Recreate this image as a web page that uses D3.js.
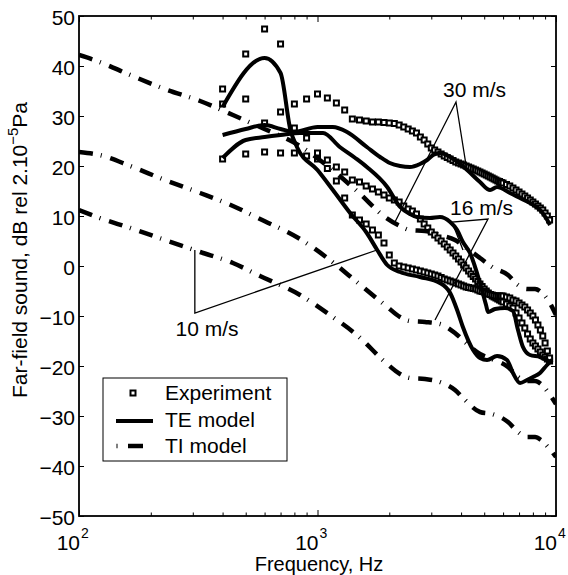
<!DOCTYPE html>
<html>
<head>
<meta charset="utf-8">
<script src="https://cdn.jsdelivr.net/npm/d3@7"></script>
<style>
body { margin: 0; background: #fff; }
svg { display: block; font-family: "Liberation Sans", Arial, Helvetica, sans-serif; }
</style>
</head>
<body>
<script>
// Experiment spectra, dB rel 2e-5 Pa
var freqExp = [400, 500, 600, 700, 800, 900, 1000, 1100, 1200, 1300, 1400, 1500, 1600, 1700, 1800, 1900,
    2000, 2100, 2200, 2300, 2400, 2500, 2600, 2700, 2800, 2900, 3000,
    3100, 3200, 3300, 3400, 3500, 3600, 3700, 3800, 3900, 4000,
    4100, 4200, 4300, 4400, 4500, 4600, 4700, 4800, 4900, 5000,
    5100, 5200, 5300, 5400, 5500, 5600, 5700, 5800, 5900, 6000,
    6200, 6400, 6600, 6800, 7000, 7200, 7400, 7600, 7800, 8000, 8200, 8400, 8600, 8800, 9000, 9200, 9400];

var exp30 = [32.4, 33.4, 28.6, 30.8, 32.4, 33.4, 34.4, 33.6, 32.6, 31.2, 29.4, 29.2, 29.0, 28.8, 28.8, 28.7,
    28.6, 28.5, 28.2, 27.8, 27.4, 27.0, 26.6, 25.8, 25.2, 24.4, 23.6,
    23.2, 22.8, 22.4, 22.0, 21.7, 21.4, 21.1, 20.8, 20.6, 20.4,
    20.2, 20.0, 19.8, 19.6, 19.4, 19.2, 19.0, 18.8, 18.6, 18.4,
    18.2, 18.0, 17.8, 17.6, 17.4, 17.2, 17.0, 16.9, 16.7, 16.6,
    16.3, 16.0, 15.6, 15.2, 14.8, 14.4, 14.0, 13.6, 13.2, 12.8, 12.4, 12.0, 11.6, 11.2, 10.6, 10.0, 9.2];

var exp16 = [21.4, 22.4, 22.8, 22.6, 22.6, 22.0, 22.6, 21.2, 19.8, 18.8, 17.2, 16.8, 16.0, 15.4, 14.8, 14.2,
    13.6, 13.2, 12.8, 12.0, 11.4, 11.0, 10.4, 9.4, 8.4, 7.6, 6.8,
    6.2, 5.6, 5.0, 4.4, 3.8, 3.2, 2.6, 2.0, 1.4, 0.8,
    0.2, -0.4, -1.0, -1.6, -2.1, -2.6, -3.1, -3.6, -4.1, -4.6,
    -5.0, -5.4, -5.7, -6.0, -6.2, -6.4, -6.6, -6.8, -7.0, -7.2,
    -7.6, -8.0, -8.4, -9.4, -10.4, -11.4, -12.4, -13.6, -14.6, -15.4, -16.0, -16.6, -17.2, -17.8, -18.2, -18.6, -19.0];

var exp10 = [35.4, 42.4, 47.4, 44.4, 27.6, 25.6, 21.4, 19.5, 17.0, 13.6, 10.2, 9.2, 8.4, 7.2, 6.2, 4.6,
    2.2, 0.6, 0.0, -0.2, -0.4, -0.6, -0.8, -1.0, -1.2, -1.4, -1.6,
    -1.8, -2.0, -2.3, -2.6, -2.8, -3.0, -3.2, -3.4, -3.6, -3.8,
    -4.0, -4.2, -4.3, -4.4, -4.5, -4.6, -4.8, -5.0, -5.1, -5.2,
    -5.4, -5.6, -5.7, -5.8, -5.9, -6.0, -6.0, -6.0, -6.0, -6.0,
    -6.2, -6.4, -6.8, -7.0, -7.4, -7.8, -8.2, -8.8, -9.4, -10.0, -10.8, -11.8, -12.8, -14.0, -15.4, -17.0, -18.4];

// TE model
var teFreq30 = [400, 500, 600, 700, 800, 1000, 1160, 1330, 1610, 1830, 2010, 2220, 2440, 2690, 2880, 3050,
    3260, 3770, 4240, 4800, 5290, 5660, 6410, 7060, 7780, 8570, 9080, 9440];
var te30 = [26.2, 27.4, 28.2, 27.4, 26.8, 27.8, 27.8, 26.8, 23.8, 21.8, 20.6, 20.0, 19.8, 20.4, 21.2, 22.2,
    22.6, 21.2, 19.2, 16.8, 15.2, 15.8, 14.6, 13.6, 12.6, 11.2, 9.6, 8.2];

var teFreq16 = [400, 500, 600, 700, 845, 1055, 1240, 1440, 1610, 1960, 2220, 2440, 2610, 2960, 3260, 3600,
    3850, 4070, 4360, 4800, 5090, 5190, 5550, 6110, 6600, 6930, 7270, 7780, 8570, 9440];
var te16 = [21.6, 25.2, 25.8, 26.2, 26.6, 26.6, 23.8, 21.6, 19.8, 15.8, 11.8, 10.4, 9.8, 9.6, 9.8, 8.8,
    7.2, 4.8, 2.6, -3.4, -7.8, -9.2, -8.6, -8.4, -9.0, -12.8, -16.2, -17.8, -18.2, -19.2];

var teFreq10 = [400, 600, 700, 770, 820, 1000, 1160, 1370, 1610, 1780, 1960, 2220, 2690, 3260, 3600, 3850,
    4070, 4490, 4800, 5140, 5660, 6230, 6600, 7070, 7560, 8010, 8570, 9170, 9620];
var te10 = [31.8, 41.6, 38.6, 27.2, 23.8, 19.2, 15.2, 10.6, 6.6, 3.2, 0.2, -1.2, -2.2, -3.4, -5.4, -8.8,
    -12.2, -16.8, -18.4, -18.8, -18.0, -18.8, -21.4, -23.4, -22.8, -22.2, -21.4, -19.8, -18.8];

// TI model
var tiFreq = [100, 122, 164, 229, 322, 442, 574, 845, 1128, 1479, 1919, 2218, 2442, 2823, 3263, 3771,
    4153, 4801, 5391, 6292, 6929, 7557, 8166, 8651, 9258, 10000];
var ti30 = [42.2, 40.8, 38.2, 35.4, 33.0, 30.2, 27.8, 24.0, 19.6, 14.8, 9.8, 8.0, 7.2, 7.0, 6.2, 5.2,
    3.8, 1.6, -0.2, -1.8, -3.8, -4.6, -4.6, -5.2, -6.8, -9.8];
var ti16 = [22.8, 22.2, 20.0, 17.2, 14.6, 12.0, 9.4, 5.4, 1.2, -3.4, -7.8, -10.2, -11.0, -11.2, -11.6, -13.4,
    -15.2, -17.6, -18.6, -20.2, -22.2, -23.0, -23.0, -23.6, -25.2, -27.6];
var ti10 = [11.2, 9.6, 7.6, 5.2, 2.8, 0.6, -2.0, -5.8, -9.8, -14.0, -19.2, -21.6, -22.4, -22.6, -23.2, -24.8,
    -26.8, -29.2, -29.6, -31.2, -33.2, -34.2, -34.2, -34.8, -36.2, -38.2];

// tick labels
var yTicks = [-50, -40, -30, -20, -10, 0, 10, 20, 30, 40, 50];
var xDecades = [100, 1000, 10000];
var xDecadeExp = ["2", "3", "4"];

// speed labels and their pointer lines, in [Hz, dB]
var speedLabels = ["10 m/s", "16 m/s", "30 m/s"];
var labelAt = [[344, -14.0], [4870, 10.2], [4553, 33.8]];
var pointers = [
    [[306, 3.2], [306, -9.4], [1776, 3.2]],
    [[3110, -10.8], [5187, 9.4], [3664, 8.8], [4074, 3.2]],
    [[2113, 8.8], [3808, 32.8], [4195, 20.2]]
];

var w = 568;
var h = 575;

var x = d3.scaleLog().domain([100, 10000]).range([79, 556]);
var y = d3.scaleLinear().domain([-50, 50]).range([516, 16]);

var svg = d3.select("body")
    .append("svg")
    .attr("width", w)
    .attr("height", h);

svg.append("rect").attr("width", w).attr("height", h).attr("fill", "#fff");

svg.append("defs").append("clipPath")
    .attr("id", "plotclip")
    .append("rect")
    .attr("x", 79).attr("y", 16)
    .attr("width", 477).attr("height", 500);

var plot = svg.append("g").attr("clip-path", "url(#plotclip)");

function zip(fs, vs) {
    return fs.map((f, i) => [f, vs[i]]);
}

// experiment squares
[exp30, exp16, exp10].forEach(function (vals) {
    plot.append("g")
        .selectAll("rect")
        .data(zip(freqExp, vals))
        .enter()
        .append("rect")
        .attr("x", d => x(d[0]) - 2.5)
        .attr("y", d => y(d[1]) - 2.5)
        .attr("width", 5)
        .attr("height", 5)
        .attr("fill", "#fff")
        .attr("stroke", "#000")
        .attr("stroke-width", 2);
});

var line = d3.line()
    .x(d => x(d[0]))
    .y(d => y(d[1]))
    .curve(d3.curveMonotoneX);

// TE model
[[teFreq30, te30], [teFreq16, te16], [teFreq10, te10]].forEach(function (s) {
    plot.append("path")
        .datum(zip(s[0], s[1]))
        .attr("d", line)
        .attr("fill", "none")
        .attr("stroke", "#000")
        .attr("stroke-width", 4)
        .attr("stroke-linejoin", "round");
});

// TI model
[ti30, ti16, ti10].forEach(function (vals) {
    plot.append("path")
        .datum(zip(tiFreq, vals))
        .attr("d", line)
        .attr("fill", "none")
        .attr("stroke", "#000")
        .attr("stroke-width", 4.5)
        .attr("stroke-dasharray", "14,8,1,9");
});

// pointers + labels
var pline = d3.line().x(d => x(d[0])).y(d => y(d[1]));
pointers.forEach(function (p) {
    plot.append("path")
        .attr("d", pline(p))
        .attr("fill", "none")
        .attr("stroke", "#000")
        .attr("stroke-width", 1.3);
});
svg.selectAll("text.speed")
    .data(speedLabels)
    .enter()
    .append("text")
    .attr("class", "speed")
    .attr("x", (d, i) => x(labelAt[i][0]))
    .attr("y", (d, i) => y(labelAt[i][1]))
    .attr("text-anchor", "middle")
    .attr("font-size", "21px")
    .text(d => d);

// axes (inward ticks, MATLAB look)
var minor = x.ticks().filter(t => xDecades.indexOf(t) < 0);

function styleAxis(g) {
    g.select(".domain").remove();
    g.selectAll(".tick line").attr("stroke", "#000").attr("stroke-width", 1);
}

svg.append("g").attr("transform", "translate(0,516)")
    .call(d3.axisBottom(x).tickValues(xDecades).tickSize(-6).tickFormat(""))
    .call(styleAxis);
svg.append("g").attr("transform", "translate(0,516)")
    .call(d3.axisBottom(x).tickValues(minor).tickSize(-3.5).tickFormat(""))
    .call(styleAxis);
svg.append("g").attr("transform", "translate(0,16)")
    .call(d3.axisTop(x).tickValues(xDecades).tickSize(-6).tickFormat(""))
    .call(styleAxis);
svg.append("g").attr("transform", "translate(0,16)")
    .call(d3.axisTop(x).tickValues(minor).tickSize(-3.5).tickFormat(""))
    .call(styleAxis);

var yAx = svg.append("g").attr("transform", "translate(79,0)")
    .call(d3.axisLeft(y).tickValues(yTicks).tickSize(-5).tickPadding(4))
    .call(styleAxis);
yAx.selectAll("text")
    .attr("font-size", "21px")
    .attr("font-family", "Liberation Sans, Arial, sans-serif")
    .attr("fill", "#000")
    .attr("dy", "0.4em");

svg.append("g").attr("transform", "translate(556,0)")
    .call(d3.axisRight(y).tickValues(yTicks).tickSize(-5).tickFormat(""))
    .call(styleAxis);

// decade labels 10^n
svg.selectAll("text.dec")
    .data(xDecades)
    .enter()
    .append("text")
    .attr("class", "dec")
    .attr("x", d => x(d) + 1)
    .attr("y", 550)
    .attr("text-anchor", "end")
    .attr("font-size", "21px")
    .text("10");
svg.selectAll("text.decexp")
    .data(xDecades)
    .enter()
    .append("text")
    .attr("class", "decexp")
    .attr("x", d => x(d) + 2)
    .attr("y", 538)
    .attr("font-size", "14px")
    .text((d, i) => xDecadeExp[i]);

// box
svg.append("rect")
    .attr("x", 79).attr("y", 16)
    .attr("width", 477).attr("height", 500)
    .attr("fill", "none")
    .attr("stroke", "#000")
    .attr("stroke-width", 1.8);

// axis titles
svg.append("text")
    .attr("x", 319)
    .attr("y", 571)
    .attr("text-anchor", "middle")
    .attr("font-size", "20px")
    .text("Frequency, Hz");

var yl = svg.append("text")
    .attr("transform", "translate(27,250) rotate(-90)")
    .attr("text-anchor", "middle")
    .attr("font-size", "21px");
yl.append("tspan").text("Far-field sound, dB rel 2.10");
yl.append("tspan").attr("dy", -9).attr("font-size", "15px").text("\u22125");
yl.append("tspan").attr("dy", 9).text("Pa");

// legend
var lg = svg.append("g");
lg.append("rect")
    .attr("x", 103).attr("y", 378)
    .attr("width", 184).attr("height", 83)
    .attr("fill", "#fff")
    .attr("stroke", "#000")
    .attr("stroke-width", 1);
lg.append("rect")
    .attr("x", 130.5).attr("y", 390.5)
    .attr("width", 5).attr("height", 5)
    .attr("fill", "#fff").attr("stroke", "#000").attr("stroke-width", 2);
lg.append("line")
    .attr("x1", 116).attr("x2", 153).attr("y1", 421).attr("y2", 421)
    .attr("stroke", "#000").attr("stroke-width", 4);
lg.append("line")
    .attr("x1", 116.5).attr("x2", 117.5).attr("y1", 446).attr("y2", 446)
    .attr("stroke", "#000").attr("stroke-width", 4.5);
lg.append("line")
    .attr("x1", 128).attr("x2", 143).attr("y1", 446).attr("y2", 446)
    .attr("stroke", "#000").attr("stroke-width", 4.5);
lg.selectAll("text")
    .data(["Experiment", "TE model", "TI model"])
    .enter()
    .append("text")
    .attr("x", 165)
    .attr("y", (d, i) => 400 + i * 26.5)
    .attr("font-size", "21px")
    .text(d => d);
</script>
</body>
</html>
